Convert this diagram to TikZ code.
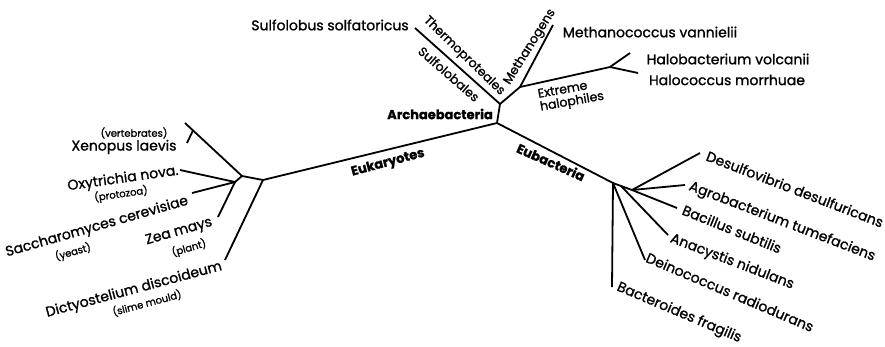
\documentclass[tikz,border=0pt]{standalone}
\usepackage{fontspec}
\setmainfont{Poppins}[FakeBold=1.2]
\usetikzlibrary{calc}
\begin{document}
\begin{tikzpicture}[x=1pt,y=-1pt,
  br/.style={line width=1.8pt,line join=round},
  lab/.style={font=\fontsize{14}{15}\selectfont, inner sep=0pt},
  tlab/.style={font=\fontsize{12.5}{13}\selectfont, inner sep=0pt},
  sml/.style={font=\fontsize{10}{11}\selectfont, inner sep=0pt},
  grp/.style={font=\fontsize{13}{14}\selectfont\bfseries, inner sep=0pt}]
\useasboundingbox (0,0) rectangle (885,346);
% tree points
\coordinate (R) at (497,123);
\coordinate (A) at (500,104);
\coordinate (Sul) at (415,28);
\coordinate (M) at (520,87);
\coordinate (Met) at (553,25);
\coordinate (H) at (610,67);
\coordinate (Hb) at (630,53);
\coordinate (Hc) at (638,73);
\coordinate (E1) at (263,180);
\coordinate (E2) at (242,176);
\coordinate (Xen) at (185,123);
\coordinate (XT) at ($(Xen)!0.14!(E2)$);
\coordinate (Xe) at (187,143);
\coordinate (E3) at (235,182);
\coordinate (Oxy) at (180,170);
\coordinate (Sac) at (192,193);
\coordinate (Zea) at (218,217);
\coordinate (Dic) at (225,260);
\coordinate (B1) at (613,183);
\coordinate (Bm) at (621,186);
\coordinate (B2) at (632,190);
\coordinate (Bct) at (612,287);
\coordinate (Dei) at (645,260);
\coordinate (Ana) at (668,235);
\coordinate (Bcl) at (677,208);
\coordinate (Agr) at (685,185);
\coordinate (Des) at (700,153);
% branches
\draw[br] (R) -- (A) -- (Sul);
\draw[br] (A) -- (M) -- (Met);
\draw[br] (M) -- (H) -- (Hb);
\draw[br] (H) -- (Hc);
\draw[br] (R) -- (E1) -- (E2) -- (Xen);
\draw[br] (XT) -- (Xe);
\draw[br] (E2) -- (E3) -- (Oxy);
\draw[br] (E3) -- (Sac);
\draw[br] (E3) -- (Zea);
\draw[br] (E1) -- (Dic);
\draw[br] (R) -- (B1) -- (Bm) -- (B2);
\draw[br] (B1) -- (Bct);
\draw[br] (B1) -- (Dei);
\draw[br] (Bm) -- (Ana);
\draw[br] (B2) -- (Bcl);
\draw[br] (B2) -- (Agr);
\draw[br] (B2) -- (Des);
% labels
\node[lab] (tSul) at (330,25) {Sulfolobus solfatoricus};
\node[tlab,rotate=-44] (tThe) at (464,56) {Thermoproteales};
\node[tlab,rotate=-41] (tSfb) at (449,74) {Sulfolobales};
\node[tlab,rotate=58] (tMg) at (530,47) {Methanogens};
\node[lab] (tMet) at (650,32) {Methanococcus vannielii};
\node[lab] (tHb) at (728,59) {Halobacterium volcanii};
\node[lab] (tHc) at (727,80) {Halococcus morrhuae};
\node[tlab,rotate=10,align=left] (tExt) at (571,96) {Extreme\\halophiles};
\node[grp] (tArc) at (440,114) {Archaebacteria};
\node[grp,rotate=15] (tEuk) at (388,163) {Eukaryotes};
\node[grp,rotate=-24] (tEub) at (551,162) {Eubacteria};
\node[sml] (tVer) at (134,133) {(vertebrates)};
\node[lab] (tXen) at (124,147) {Xenopus laevis};
\node[lab,rotate=8] (tOxy) at (123,179) {Oxytrichia nova.};
\node[sml,rotate=8] (tPro) at (121,194) {(protozoa)};
\node[lab,rotate=16] (tSac) at (97,227) {Saccharomyces cerevisiae};
\node[sml,rotate=16] (tYea) at (73,252) {(yeast)};
\node[lab,rotate=16] (tZea) at (179,232) {Zea mays};
\node[sml,rotate=16] (tPla) at (189,248) {(plant)};
\node[lab,rotate=15] (tDic) at (134,290) {Dictyostelium discoideum};
\node[sml,rotate=15] (tSli) at (147,303) {(slime mould)};
\node[lab,rotate=-21] (tDes) at (795,189) {Desulfovibrio desulfuricans};
\node[lab,rotate=-21] (tAgr) at (782,222) {Agrobacterium tumefaciens};
\node[lab,rotate=-22] (tBcl) at (732,229) {Bacillus subtilis};
\node[lab,rotate=-21] (tAna) at (732,262) {Anacystis nidulans};
\node[lab,rotate=-23] (tDei) at (730,292) {Deinococcus radiodurans};
\node[lab,rotate=-23] (tBct) at (679,313) {Bacteroides fragilis};
\end{tikzpicture}
\end{document}
